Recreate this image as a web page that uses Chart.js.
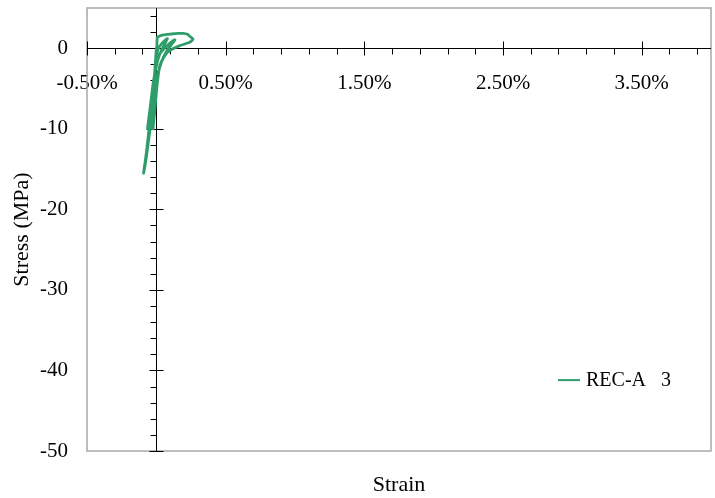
<!DOCTYPE html>
<html>
<head>
<meta charset="utf-8">
<script src="https://cdn.jsdelivr.net/npm/chart.js@4/dist/chart.umd.min.js"></script>
<style>
  html, body { margin: 0; padding: 0; background: #fff; }
  canvas { display: block; }
</style>
</head>
<body>
<canvas id="c" width="715" height="498"></canvas>
<script>
// Cyclic stress-strain record (strain in %, stress in MPa)
const seriesName = 'REC-A   3';
const strain = [
  0.000, -0.004, -0.012, -0.022,
  -0.012, 0.000, 0.013, 0.040, 0.073, 0.080,
  0.060, 0.035, 0.010,
  -0.020, -0.042, -0.064,
  -0.045, -0.025, -0.005, 0.025, 0.070, 0.121, 0.135,
  0.110, 0.070, 0.035,
  0.000, -0.030, -0.060, -0.078, -0.092,
  -0.072, -0.046, -0.020, -0.004, 0.003, 0.005, 0.008,
  0.050, 0.109, 0.160, 0.193, 0.225, 0.241, 0.265,
  0.241, 0.169, 0.097, 0.061, 0.025, 0.006, -0.010, -0.024
];
const stress = [
  0.00, -1.00, -3.00, -5.00,
  -3.20, -1.20, -0.09, 0.60, 1.15, 1.20,
  0.50, -0.30, -1.50,
  -4.00, -7.00, -10.00,
  -8.00, -5.00, -2.50, -0.70, 0.20, 0.96, 1.05,
  0.50, -0.50, -1.80,
  -4.00, -8.00, -12.00, -14.20, -15.50,
  -13.00, -9.00, -5.00, -1.50, 0.00, 0.90, 1.36,
  1.65, 1.77, 1.84, 1.86, 1.75, 1.49, 1.15,
  0.74, 0.33, -0.29, -0.91, -2.15, -4.50, -7.50, -10.00
];

// Axis ticks
const strainMajorTicks = [-0.5, 0.5, 1.5, 2.5, 3.5];
const strainMinorStep = 0.2;
const stressMajorTicks = [0, -10, -20, -30, -40, -50];
const stressMinorStep = 2;

const serif = 'Liberation Serif, Times New Roman, serif';
const lineColor = '#2e9d6a';

// Scales take no extra room beyond what is set explicitly
function noPadding(s) {
  s.paddingTop = 0; s.paddingBottom = 0; s.paddingLeft = 0; s.paddingRight = 0;
}

// Axes crossing at the origin, with their tick marks, plus the plot frame
const crossAxes = {
  id: 'crossAxes',
  beforeDatasetsDraw(chart) {
    const { ctx, chartArea: a, scales } = chart;
    const xs = scales.x, ys = scales.y;
    const x0 = Math.round(xs.getPixelForValue(0)) + 0.5;
    const y0 = Math.round(ys.getPixelForValue(0)) + 0.5;
    ctx.save();
    ctx.strokeStyle = '#a8a8a8';
    ctx.lineWidth = 1.5;
    ctx.strokeRect(a.left, a.top, a.right - a.left, a.bottom - a.top);

    ctx.strokeStyle = '#000';
    ctx.lineWidth = 1;
    ctx.beginPath();
    ctx.moveTo(a.left, y0); ctx.lineTo(a.right, y0);
    ctx.moveTo(x0, a.top); ctx.lineTo(x0, a.bottom);

    // strain ticks: minor below the axis, major across it
    const nx = Math.round((xs.max - xs.min) / strainMinorStep);
    for (let k = 0; k <= nx; k++) {
      const v = xs.min + k * strainMinorStep;
      const px = Math.round(xs.getPixelForValue(v)) + 0.5;
      const major = strainMajorTicks.some(m => Math.abs(m - v) < 1e-6);
      if (major) { ctx.moveTo(px, y0 - 7); ctx.lineTo(px, y0 + 7); }
      else { ctx.moveTo(px, y0); ctx.lineTo(px, y0 + 6); }
    }
    // stress ticks: minor left of the axis, major across it
    const ny = Math.floor((ys.max - ys.min) / stressMinorStep);
    for (let k = 0; k <= ny; k++) {
      const v = ys.min + k * stressMinorStep;
      const py = Math.round(ys.getPixelForValue(v)) + 0.5;
      const major = stressMajorTicks.includes(v);
      if (major) { ctx.moveTo(x0 - 7, py); ctx.lineTo(x0 + 7, py); }
      else { ctx.moveTo(x0 - 6, py); ctx.lineTo(x0, py); }
    }
    ctx.stroke();
    ctx.restore();
  }
};

// Legend entry placed inside the plot, lower right
const insideLegend = {
  id: 'insideLegend',
  afterDatasetsDraw(chart) {
    const { ctx, scales } = chart;
    const ds = chart.data.datasets[0];
    const xs = scales.x, ys = scales.y;
    const lx = xs.getPixelForValue(2.5) + 55;
    const ly = ys.getPixelForValue(-41.2);
    ctx.save();
    ctx.strokeStyle = ds.borderColor;
    ctx.lineWidth = 2;
    ctx.beginPath();
    ctx.moveTo(lx, ly); ctx.lineTo(lx + 22, ly);
    ctx.stroke();
    ctx.fillStyle = '#000';
    ctx.font = '20px ' + serif;
    ctx.textBaseline = 'middle';
    ctx.textAlign = 'left';
    ctx.fillText(ds.label, lx + 28, ly + 1);
    ctx.restore();
  }
};

new Chart(document.getElementById('c'), {
  type: 'scatter',
  data: {
    datasets: [{
      label: seriesName,
      data: strain.map((x, i) => ({ x, y: stress[i] })),
      showLine: true,
      borderColor: lineColor,
      backgroundColor: lineColor,
      borderWidth: 2.8,
      borderJoinStyle: 'round',
      borderCapStyle: 'round',
      pointRadius: 0,
      tension: 0.2,
      xAxisID: 'x',
      yAxisID: 'y'
    }]
  },
  options: {
    responsive: false,
    animation: false,
    devicePixelRatio: 1,
    layout: { padding: { left: 0, top: 8, right: 4, bottom: 0 } },
    plugins: { legend: { display: false }, tooltip: { enabled: false } },
    scales: {
      x: {
        type: 'linear', min: -0.5, max: 4.0,
        position: { y: 0 },
        grid: { display: false, drawTicks: false },
        border: { display: false },
        afterBuildTicks: s => { s.ticks = strainMajorTicks.map(v => ({ value: v })); },
        afterFit: s => { s.height = 0; noPadding(s); },
        ticks: {
          autoSkip: false, maxRotation: 0, padding: 23, color: '#000',
          font: { family: serif, size: 21 },
          callback: v => v.toFixed(2) + '%'
        }
      },
      y: {
        type: 'linear', min: -50, max: 5,
        position: 'left',
        grid: { display: false, drawTicks: false },
        border: { display: false },
        afterBuildTicks: s => { s.ticks = stressMajorTicks.map(v => ({ value: v })); },
        afterFit: s => { s.width = 87; noPadding(s); },
        ticks: {
          autoSkip: false, padding: 19, color: '#000',
          font: { family: serif, size: 21 },
          callback: v => String(v)
        },
        title: {
          display: true, text: 'Stress (MPa)', color: '#000',
          font: { family: serif, size: 22 },
          padding: { top: 9, bottom: 0 }
        }
      },
      xt: {
        type: 'linear', axis: 'x', position: 'bottom', min: 0, max: 1,
        grid: { display: false, drawTicks: false },
        border: { display: false },
        ticks: { display: false },
        afterFit: s => { s.height = 47; noPadding(s); },
        title: {
          display: true, text: 'Strain', color: '#000',
          font: { family: serif, size: 22 },
          padding: { top: 0, bottom: 0 }
        }
      }
    }
  },
  plugins: [crossAxes, insideLegend]
});
</script>
</body>
</html>
